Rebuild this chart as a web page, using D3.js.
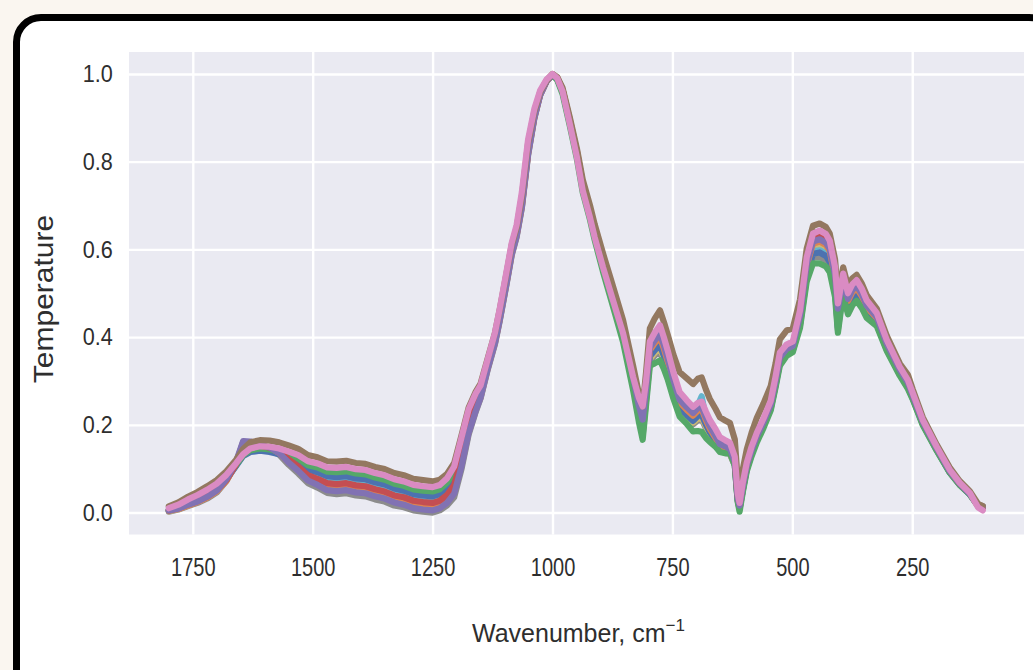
<!DOCTYPE html>
<html lang="en">
<head>
<meta charset="UTF-8">
<title>Spectra</title>
<style>
  body { margin:0; background:#faf6f0; width:1033px; height:670px; overflow:hidden; position:relative; font-family:"Liberation Sans", Arial, sans-serif; }
  .card { position:absolute; left:13px; top:14px; width:1044px; height:720px; box-sizing:border-box; border:7px solid #000; border-radius:28px; background:#fff; }
  svg { position:absolute; left:0; top:0; }
</style>
</head>
<body>
<div class="card"></div>
<svg></svg>
<script src="https://d3js.org/d3.v7.min.js"></script>
<script>
// wavenumber grid (cm-1), shared by every spectrum
const wavenumbers = [
  1800,1780,1760,1740,1720,1700,1680,1660,
  1645,1630,1610,1590,1570,
  1550,1530,1510,1490,1470,1450,1430,1410,1390,1370,1350,1330,1310,1290,1270,1250,
  1235,1220,1205,1190,1175,1160,1150,
  1135,1120,1110,1095,1085,1075,1064,1051,1038,1026,1012,
  1000,990,979,
  964,949,937,922,912,895,874,853,832,
  820,812,805,797,787,776,768,760,748,735,720,707,697,689,680,672,660,651,640,630,620,
  614,610,603,
  595,585,574,560,545,535,526,512,499,
  484,470,457,443,430,422,411,405,398,394,384,375,366,355,345,
  324,303,276,259,249,228,199,172,151,130,113,103
];

// the pink spectrum (drawn last, on top)
const pinkSpectrum = [
  .010,.018,.030,.040,.052,.066,.086,.112,
  .133,.146,.151,.150,.146,
  .139,.131,.117,.112,.103,.102,.104,.099,.097,.090,.085,.076,.071,.063,.060,.058,
  .063,.078,.105,.170,.235,.272,.290,
  .350,.410,.465,.555,.615,.655,.730,.850,.920,.962,.988,
  1.000,.990,.960,
  .886,.809,.734,.673,.627,.560,.484,.409,.309,
  .262,.242,.300,.390,.410,.427,.400,.370,.320,.275,.256,.241,.250,.253,.230,.211,.190,.172,.165,.159,.127,
  .045,.022,.070,
  .114,.150,.182,.215,.255,.310,.365,.383,.390,
  .461,.582,.636,.643,.635,.620,.560,.477,.520,.545,.500,.520,.530,.510,.484,
  .455,.393,.332,.302,.273,.211,.150,.098,.068,.045,.012,.005
];

// other samples, read as difference from the pink spectrum
const brownShift = [
  .004,.005,.006,.007,.008,.008,.008,.008,
  .012,.014,.014,.014,.014,
  .014,.014,.014,.014,.014,.014,.014,.014,.014,.014,.014,.014,.014,.014,.014,.013,
  .012,.010,.008,.005,.004,.004,.004,
  .002,.000,-.002,-.004,-.004,-.006,-.010,-.008,-.006,-.004,-.002,
  .000,.003,.008,
  .015,.020,.025,.028,.030,.032,.032,.030,.026,
  .010,.000,.020,.030,.032,.034,.035,.036,.040,.045,.050,.052,.055,.055,.050,.048,.046,.045,.045,.045,.040,
  .030,.012,.030,
  .030,.032,.034,.034,.034,.030,.030,.032,.030,
  .025,.020,.018,.016,.016,.016,.018,.020,.016,.014,.016,.014,.012,.012,.012,
  .010,.010,.008,.012,.008,.006,.005,.005,.004,.004,.008,.010
];
const greenShift = [
  -.004,-.004,-.005,-.006,-.006,-.006,-.005,-.004,
  -.002,-.004,-.005,-.006,-.007,
  -.008,-.008,-.009,-.009,-.010,-.010,-.010,-.010,-.010,-.010,-.010,-.010,-.010,-.010,-.010,-.010,
  -.010,-.010,-.012,-.015,-.012,-.010,-.008,
  -.008,-.010,-.012,-.014,-.012,-.012,-.018,-.020,-.012,-.006,-.002,
  -.002,-.004,-.006,
  -.004,-.004,-.004,-.005,-.006,-.010,-.014,-.020,-.030,
  -.055,-.076,-.055,-.055,-.070,-.080,-.072,-.066,-.060,-.056,-.054,-.056,-.064,-.069,-.060,-.050,-.040,-.034,-.030,-.023,-.020,
  -.020,-.020,-.022,
  -.020,-.022,-.022,-.022,-.022,-.025,-.030,-.026,-.024,
  -.040,-.055,-.068,-.075,-.074,-.072,-.068,-.067,-.052,-.050,-.048,-.048,-.047,-.044,-.040,
  -.030,-.025,-.020,-.020,-.015,-.012,-.009,-.007,-.005,-.004,.003,.006
];
const blueShift = [
  -.006,-.007,-.008,-.010,-.011,-.012,-.010,-.006,
  -.004,-.008,-.010,-.012,-.013,
  -.016,-.018,-.019,-.020,-.020,-.021,-.021,-.021,-.021,-.021,-.021,-.021,-.021,-.021,-.021,-.021,
  -.021,-.022,-.025,-.030,-.025,-.018,-.014,
  -.012,-.014,-.016,-.018,-.016,-.016,-.022,-.024,-.015,-.008,-.003,
  -.002,-.002,.000,
  .002,.004,.006,.006,.005,.002,-.002,-.008,-.014,
  -.035,-.055,-.035,-.034,-.040,-.046,-.042,-.040,-.038,-.036,-.034,-.032,-.030,-.030,-.030,-.028,-.026,-.024,-.022,-.020,-.016,
  -.016,-.012,-.016,
  -.014,-.015,-.015,-.015,-.016,-.019,-.022,-.020,-.019,
  -.030,-.040,-.046,-.050,-.050,-.049,-.047,-.055,-.040,-.038,-.036,-.035,-.034,-.032,-.030,
  -.023,-.020,-.015,-.015,-.012,-.009,-.007,-.006,-.004,-.003,.004,.008
];
const cyanShift = [
  -.006,-.008,-.010,-.012,-.014,-.014,-.012,-.005,
  .010,.002,-.004,-.008,-.012,
  -.020,-.024,-.026,-.028,-.029,-.030,-.030,-.030,-.030,-.030,-.030,-.030,-.030,-.030,-.030,-.030,
  -.030,-.032,-.036,-.040,-.033,-.024,-.018,
  -.015,-.017,-.018,-.020,-.018,-.018,-.025,-.026,-.016,-.008,-.003,
  -.002,-.001,.002,
  .005,.008,.010,.011,.010,.008,.004,-.002,-.010,
  -.032,-.050,-.030,-.030,-.034,-.040,-.036,-.034,-.032,-.032,-.030,-.028,-.005,.012,-.015,-.022,-.022,-.020,-.018,-.016,-.012,
  -.014,-.010,-.014,
  -.012,-.012,-.012,-.012,-.012,-.015,-.018,-.016,-.015,
  -.026,-.034,-.040,-.045,-.045,-.044,-.042,-.050,-.036,-.034,-.032,-.031,-.030,-.029,-.027,
  -.020,-.017,-.013,-.013,-.010,-.008,-.006,-.005,-.004,-.003,.004,.008
];
const redShift = [
  -.005,-.008,-.011,-.013,-.015,-.015,-.012,-.002,
  .022,.010,.002,-.002,-.008,
  -.018,-.026,-.032,-.035,-.036,-.037,-.037,-.037,-.037,-.037,-.037,-.037,-.036,-.036,-.036,-.036,
  -.036,-.038,-.042,-.048,-.040,-.028,-.020,
  -.016,-.018,-.020,-.022,-.020,-.020,-.027,-.028,-.018,-.009,-.003,
  -.001,.001,.004,
  .010,.014,.018,.020,.020,.020,.018,.014,.008,
  -.012,-.020,-.010,-.008,-.012,-.014,-.012,-.012,-.012,-.012,-.010,-.010,-.008,-.008,-.010,-.010,-.012,-.012,-.010,-.010,-.008,
  -.008,-.004,-.006,
  -.005,-.006,-.006,-.006,-.006,-.006,-.008,-.006,-.006,
  -.008,-.010,-.012,-.013,-.013,-.012,-.010,.000,-.008,-.010,-.008,-.008,-.008,-.008,-.008,
  -.006,-.006,-.004,-.004,-.004,-.003,-.002,-.002,-.002,-.001,.004,.006
];
const oliveShift = [
  -.007,-.010,-.013,-.015,-.017,-.017,-.013,-.002,
  .022,.012,.002,-.004,-.010,
  -.022,-.030,-.036,-.040,-.042,-.043,-.043,-.043,-.043,-.043,-.043,-.043,-.043,-.043,-.043,-.043,
  -.043,-.045,-.050,-.055,-.045,-.032,-.024,
  -.018,-.020,-.022,-.024,-.022,-.022,-.030,-.030,-.019,-.010,-.004,
  -.002,.000,.003,
  .006,.010,.013,.014,.014,.012,.008,.002,-.006,
  -.040,-.060,-.040,-.040,-.046,-.052,-.048,-.045,-.042,-.040,-.038,-.036,-.036,-.036,-.034,-.032,-.030,-.028,-.026,-.024,-.018,
  -.016,-.012,-.016,
  -.013,-.014,-.014,-.014,-.014,-.017,-.020,-.018,-.017,
  -.020,-.026,-.030,-.033,-.033,-.032,-.030,-.034,-.026,-.026,-.024,-.023,-.023,-.022,-.020,
  -.015,-.013,-.010,-.010,-.008,-.006,-.005,-.004,-.003,-.002,.004,.006
];
const orangeShift = [
  -.006,-.010,-.014,-.016,-.018,-.018,-.014,-.001,
  .026,.014,.004,-.002,-.010,
  -.024,-.034,-.041,-.045,-.047,-.048,-.048,-.048,-.048,-.048,-.048,-.048,-.048,-.048,-.048,-.048,
  -.048,-.050,-.056,-.060,-.050,-.036,-.026,
  -.020,-.022,-.024,-.026,-.024,-.024,-.032,-.032,-.020,-.010,-.004,
  -.001,.001,.004,
  .008,.012,.015,.017,.017,.016,.014,.010,.004,
  -.025,-.040,-.025,-.020,-.024,-.028,-.026,-.025,-.024,-.024,-.022,-.020,-.018,-.018,-.020,-.020,-.020,-.020,-.018,-.016,-.012,
  -.012,-.008,-.010,
  -.009,-.010,-.010,-.010,-.010,-.012,-.015,-.013,-.012,
  -.016,-.020,-.023,-.025,-.025,-.024,-.023,-.022,-.020,-.021,-.018,-.018,-.018,-.017,-.016,
  -.012,-.010,-.008,-.008,-.007,-.005,-.004,-.003,-.003,-.002,.003,.006
];
const purpleShift = [
  -.005,-.009,-.012,-.015,-.016,-.016,-.010,.004,
  .030,.016,.004,-.002,-.010,
  -.025,-.036,-.044,-.049,-.052,-.053,-.053,-.053,-.053,-.053,-.053,-.053,-.053,-.053,-.053,-.053,
  -.053,-.056,-.062,-.066,-.054,-.040,-.028,
  -.022,-.024,-.026,-.028,-.026,-.026,-.034,-.034,-.021,-.011,-.004,
  -.002,.000,.002,
  .006,.010,.012,.014,.014,.012,.010,.006,.000,
  -.018,-.030,-.018,-.014,-.018,-.020,-.018,-.018,-.018,-.018,-.016,-.014,-.012,-.012,-.014,-.014,-.016,-.016,-.014,-.014,-.010,
  -.010,-.006,-.008,
  -.007,-.008,-.008,-.008,-.008,-.010,-.012,-.010,-.010,
  -.012,-.015,-.018,-.020,-.020,-.019,-.018,-.012,-.014,-.016,-.013,-.013,-.013,-.012,-.012,
  -.009,-.008,-.006,-.006,-.006,-.004,-.003,-.003,-.002,-.002,.004,.008
];
const grayShift = [
  -.008,-.011,-.015,-.018,-.020,-.020,-.014,.000,
  .028,.014,.002,-.006,-.014,
  -.030,-.042,-.050,-.055,-.058,-.060,-.060,-.060,-.060,-.060,-.060,-.060,-.059,-.058,-.058,-.058,
  -.058,-.062,-.070,-.072,-.058,-.042,-.030,
  -.024,-.026,-.028,-.030,-.028,-.028,-.036,-.036,-.022,-.011,-.004,
  -.003,-.002,.000,
  .004,.006,.008,.009,.008,.006,.002,-.004,-.012,
  -.045,-.065,-.045,-.045,-.052,-.058,-.054,-.050,-.046,-.044,-.042,-.040,-.040,-.040,-.038,-.036,-.034,-.032,-.028,-.026,-.020,
  -.018,-.014,-.018,
  -.016,-.017,-.017,-.017,-.018,-.021,-.024,-.022,-.021,
  -.034,-.046,-.054,-.060,-.060,-.058,-.055,-.060,-.044,-.042,-.040,-.039,-.038,-.036,-.034,
  -.026,-.022,-.017,-.017,-.013,-.010,-.008,-.006,-.005,-.003,.005,.010
];

const xTicks = [1750, 1500, 1250, 1000, 750, 500, 250];
const yTicks = [0, 0.2, 0.4, 0.6, 0.8, 1.0];

// seaborn "deep" colours, in drawing order (pink ends on top)
const series = [
  { color: "#8c8c8c", shift: grayShift },
  { color: "#ccb974", shift: oliveShift },
  { color: "#64b5cd", shift: cyanShift },
  { color: "#4c72b0", shift: blueShift },
  { color: "#dd8452", shift: orangeShift },
  { color: "#55a868", shift: greenShift },
  { color: "#c44e52", shift: redShift },
  { color: "#8172b3", shift: purpleShift },
  { color: "#937860", shift: brownShift },
  { color: "#da8bc3", shift: null }
];

let width = 1033, height = 670;
let plotLeft = 129, plotRight = 1024, plotTop = 52, plotBottom = 534.5;

let svg = d3.select("svg")
    .attr("width", width)
    .attr("height", height);

let x = d3.scaleLinear().domain([1883, 17]).range([plotLeft, plotRight]);
let y = d3.scaleLinear().domain([-0.05, 1.05]).range([plotBottom, plotTop]);

// plot background
svg.append("rect")
    .attr("x", plotLeft).attr("y", plotTop)
    .attr("width", plotRight - plotLeft).attr("height", plotBottom - plotTop)
    .attr("fill", "#eaeaf2");

// grid
svg.append("g")
    .attr("transform", `translate(0,${plotBottom})`)
    .call(d3.axisBottom(x).tickValues(xTicks).tickSize(-(plotBottom - plotTop)).tickFormat(""))
    .call(g => g.select(".domain").remove())
    .selectAll("line").attr("stroke", "#fff").attr("stroke-width", 2.4);

svg.append("g")
    .attr("transform", `translate(${plotLeft},0)`)
    .call(d3.axisLeft(y).tickValues(yTicks).tickSize(-(plotRight - plotLeft)).tickFormat(""))
    .call(g => g.select(".domain").remove())
    .selectAll("line").attr("stroke", "#fff").attr("stroke-width", 2.4);

// spectra
let line = d3.line()
    .x((d, i) => x(wavenumbers[i]))
    .y(d => y(d));

series.forEach(s => {
    let values = pinkSpectrum.map((p, i) => s.shift ? p + s.shift[i] : p);
    svg.append("path")
        .datum(values)
        .attr("d", line)
        .attr("fill", "none")
        .attr("stroke", s.color)
        .attr("stroke-width", 6.2)
        .attr("stroke-linejoin", "round")
        .attr("stroke-linecap", "round");
});

// tick labels
let xAxis = svg.append("g")
    .attr("transform", `translate(0,${plotBottom})`)
    .call(d3.axisBottom(x).tickValues(xTicks).tickSize(0).tickPadding(24).tickFormat(d3.format("d")));
xAxis.select(".domain").remove();
xAxis.selectAll("text")
    .attr("font-family", '"Liberation Sans", Arial, sans-serif')
    .attr("font-size", 25)
    .attr("fill", "#2e2e2e")
    .attr("transform", "scale(0.8,1)");

let yAxis = svg.append("g")
    .attr("transform", `translate(${plotLeft},0)`)
    .call(d3.axisLeft(y).tickValues(yTicks).tickSize(0).tickPadding(18).tickFormat(d3.format(".1f")));
yAxis.select(".domain").remove();
yAxis.selectAll("text")
    .attr("font-family", '"Liberation Sans", Arial, sans-serif')
    .attr("font-size", 24)
    .attr("fill", "#2e2e2e")
    .attr("transform", "scale(0.9,1)");

// axis labels
let xLabel = svg.append("text")
    .attr("x", (plotLeft + plotRight) / 2 + 2)
    .attr("y", 642)
    .attr("text-anchor", "middle")
    .attr("font-size", 25)
    .attr("fill", "#2e2e2e");
xLabel.append("tspan").text("Wavenumber, cm");
xLabel.append("tspan").attr("dy", -11).attr("font-size", 17).text("\u22121");

svg.append("text")
    .attr("transform", "translate(53,299) rotate(-90) scale(1,0.9)")
    .attr("text-anchor", "middle")
    .attr("font-size", 30)
    .attr("fill", "#2e2e2e")
    .text("Temperature");
</script>
</body>
</html>
